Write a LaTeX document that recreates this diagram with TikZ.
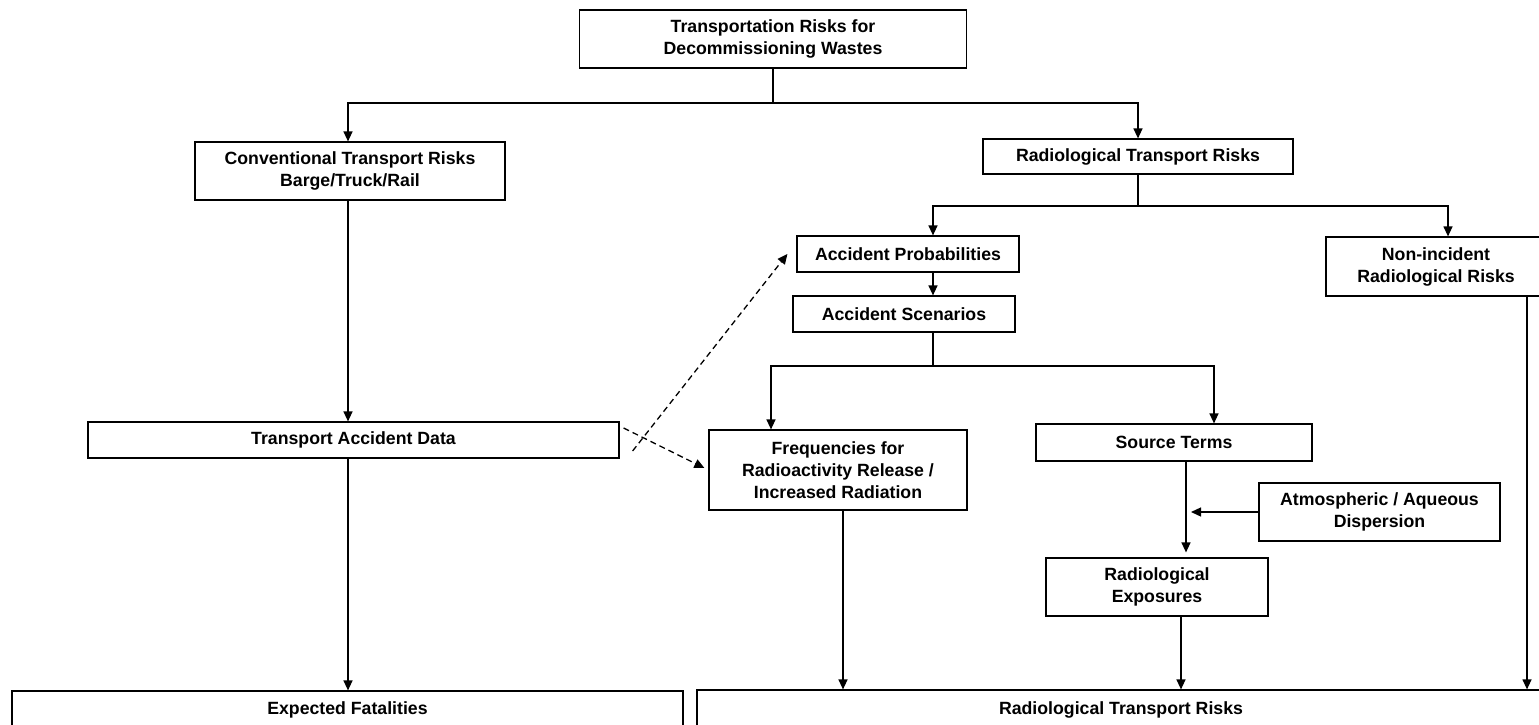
\documentclass[tikz,border=0pt]{standalone}
\usepackage{fontspec}
\setmainfont{Liberation Sans}
\usetikzlibrary{arrows.meta}
\tikzset{
	box/.style={draw, line width=1.2pt, align=center, inner sep=0pt, font=\bfseries\fontsize{17.7}{22}\selectfont},
	feed/.style={->, dash pattern=on 6pt off 4pt},
}
\begin{document}
\begin{tikzpicture}[x=1pt, y=-1pt, >={Triangle[length=10pt,width=9pt]}, line width=1.3pt]
		\useasboundingbox (0,0) rectangle (1539,725);
		\clip (0,0) rectangle (1539,725);
		% boxes
		\node[box, minimum width=387pt, minimum height=58pt] (top) at (773,39) {Transportation Risks for\\Decommissioning Wastes};
		\node[box, minimum width=310pt, minimum height=58pt] (conv) at (350,171) {Conventional Transport Risks\\Barge/Truck/Rail};
		\node[box, minimum width=310pt, minimum height=35pt] (radtop) at (1138,156.5) {Radiological Transport Risks};
		\node[box, minimum width=222pt, minimum height=36pt] (accprob) at (908,254) {Accident Probabilities};
		\node[box, minimum width=220pt, minimum height=59pt] (nonrad) at (1436,266.5) {Non-incident\\Radiological Risks};
		\node[box, minimum width=222pt, minimum height=36pt] (accscen) at (904,314) {Accident Scenarios};
		\node[box, minimum width=531pt, minimum height=36pt] (tad) at (353.5,440) {Transport Accident Data};
		\node[box, minimum width=258pt, minimum height=80pt] (freq) at (838,470) {Frequencies for\\Radioactivity Release /\\Increased Radiation};
		\node[box, minimum width=276pt, minimum height=37pt] (source) at (1174,442.5) {Source Terms};
		\node[box, minimum width=241pt, minimum height=58pt] (atmos) at (1379.5,512) {Atmospheric / Aqueous\\Dispersion};
		\node[box, minimum width=222pt, minimum height=58pt] (radexp) at (1157,587) {Radiological\\Exposures};
		\node[box, minimum width=671pt, minimum height=38pt] (fatal) at (347.5,710) {Expected Fatalities};
		\node[box, minimum width=848pt, minimum height=40pt] (radbot) at (1121,710) {Radiological Transport Risks};
		% branch points
		\coordinate (split1) at (773,103);
		\coordinate (split2) at (1138,206);
		\coordinate (split3) at (933,366);
		\coordinate (lcol) at (348,0);
		% connectors
		\draw (top) -- (split1);
		\draw[->] (split1) -| (lcol |- conv.north);
		\draw[->] (split1) -| (radtop);
		\draw (radtop) -- (split2);
		\draw[->] (split2) -| (split3 |- accprob.north);
		\draw[->] (split2) -| ([xshift=12pt]nonrad.north);
		\draw[->] (split3 |- accprob.south) -- (split3 |- accscen.north);
		\draw (split3 |- accscen.south) -- (split3);
		\draw[->] (split3) -| ([xshift=-67pt]freq.north);
		\draw[->] (split3) -| ([xshift=40pt]source.north);
		\draw[->] (lcol |- conv.south) -- (lcol |- tad.north);
		\draw[->] (lcol |- tad.south) -- (lcol |- fatal.north);
		\draw[feed] ([shift={(13pt,-11pt)}]tad.east) -- ([xshift=-9pt]accprob.west);
		\draw[feed] ([shift={(4pt,12pt)}]tad.east) -- ([shift={(-4pt,2pt)}]freq.west);
		\draw[->] ([xshift=5pt]freq.south) -- ([xshift=5pt]freq.south |- radbot.north);
		\draw[->, shorten >=5pt] ([xshift=12pt]source.south) -- ([xshift=12pt]source.south |- radexp.north);
		\draw[->] (atmos.west) -- ([xshift=17pt]source.south |- atmos.west);
		\draw[->] ([xshift=24pt]radexp.south) -- ([xshift=24pt]radexp.south |- radbot.north);
		\draw[->] ([xshift=91pt]nonrad.south) -- ([xshift=91pt]nonrad.south |- radbot.north);
	\end{tikzpicture}
\end{document}
